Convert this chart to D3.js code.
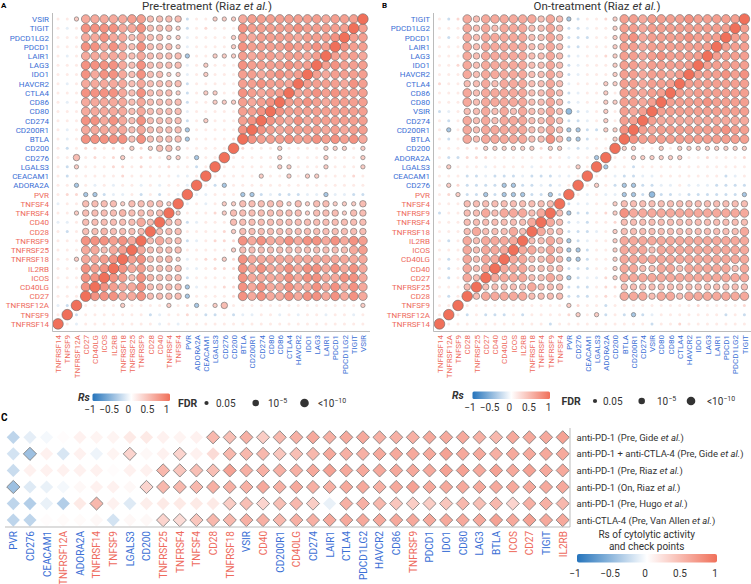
<!DOCTYPE html>
<html><head><meta charset="utf-8">
<script src="https://cdn.jsdelivr.net/npm/d3@7/dist/d3.min.js"></script>
<style>body{margin:0;background:#fff}svg{display:block;font-family:Roboto,"Noto Sans",sans-serif}</style>
</head><body>
<svg id="chart" width="751" height="584"></svg>
<script>
// ---------------- DATA ----------------
const genesA = ["TNFRSF14","TNFSF9","TNFRSF12A","CD27","CD40LG","ICOS","IL2RB","TNFRSF18","TNFRSF25","TNFRSF9","CD28","CD40","TNFRSF4","TNFSF4","PVR","ADORA2A","CEACAM1","LGALS3","CD276","CD200","BTLA","CD200R1","CD274","CD80","CD86","CTLA4","HAVCR2","IDO1","LAG3","LAIR1","PDCD1","PDCD1LG2","TIGIT","VSIR"];
const genesB = ["TNFRSF14","TNFRSF12A","TNFSF9","CD28","TNFRSF25","CD27","CD40","CD40LG","ICOS","IL2RB","TNFRSF18","TNFRSF4","TNFRSF9","TNFSF4","PVR","CD276","CEACAM1","LGALS3","ADORA2A","CD200","BTLA","CD200R1","CD274","VSIR","CD80","CD86","CTLA4","HAVCR2","IDO1","LAG3","LAIR1","PDCD1","PDCD1LG2","TIGIT"];
const genesC = ["PVR","CD276","CEACAM1","TNFRSF12A","ADORA2A","TNFRSF14","TNFSF9","LGALS3","CD200","TNFRSF25","TNFRSF4","TNFSF4","CD28","TNFRSF18","VSIR","CD40","CD200R1","CD40LG","CD274","LAIR1","CTLA4","PDCD1LG2","HAVCR2","CD86","TNFRSF9","PDCD1","IDO1","CD80","LAG3","BTLA","ICOS","CD27","TIGIT","IL2RB"];
const stimulatory = ["TNFRSF14","TNFSF9","TNFRSF12A","CD27","CD40LG","ICOS","IL2RB","TNFRSF18","TNFRSF25","TNFRSF9","CD28","CD40","TNFRSF4","TNFSF4"];
const rowOnlyStimulatory = ["PVR"];

// cell codes -> Spearman Rs and FDR
const codeRs  = {".":0.15, ":":0.28, ",":-0.12, ";":-0.25, "o":0.36, "m":0.46, "n":0.52, "L":0.6, "M":0.67, "H":0.76, "q":-0.4, "Q":-0.5, "X":1};
const codeFdr = {".":0.4, ":":0.2, ",":0.4, ";":0.2, "o":0.03, "m":1e-5, "n":1e-6, "L":1e-10, "M":1e-11, "H":1e-12, "q":0.03, "Q":1e-4, "X":1e-20};

// lower triangle (row gene i, columns 0..i) in gene order
const triA = [
"X",
".X",
",;X",
"...X",
"...HX",
"...HHX",
"...HMHX",
"..oLLMHX",
"...LLmLMX",
"...HHHMHLX",
".;.mmnmmmmX",
",,.mmmmmmLmX",
"..ommmmnmmmmX",
",..mmmmommmmoX",
".::qq;,,.;.;.,X",
"..q.,.,..,.,..,X",
".;.....:.....,,.X",
".;o...::.:..:..;.X",
"..m.:.:o.::.oo.q..X",
".;.::.::o:ommo.....X",
".,.HHHHHmHmmmmq....:X",
".,.LLLLLmLmmmmq.....HX",
"...HHLHLmHmmmm;.o...MHX",
"...LLLLLmLmmmm,.....MMHX",
".,.LLLLLmLmmmm;..oooMLMHX",
"...HHHHLmHmmmo;.oo..HMLMMX",
".,.LLLLLmLmmmm;.....MMHMMLX",
"...HLHHLmHmmoo,.o...MMLMHMMX",
"...HHHHLmHmmmm,.o...HMMMMHMMX",
".,.LLLLLmLmmmmq..oooMLMMLMMLMX",
"...HHLHLmHmmmo,....oHMMMMHMMHMX",
"...LLHLLmLmmoo,....oMLMMMMLMMMHX",
".,.HHHHLLHmmmo;.:...HMMMMMHMMMMMX",
"..oLLLLLMMmmmm;..oooLMMMMMMMMLMMMX"];

const triB = [
"X",
".X",
"..X",
".;.X",
"...mX",
".;.LmX",
".;.LmLX",
".;.LmLLX",
"...LmLLLX",
".;.LmLLLLX",
"...mLmmmLmX",
"...mmmmmmmLX",
";..mmLmLLLmLX",
"...mmmmmmmmmmX",
".:o;;q;qqq;;q;X",
".o:;;;;qq;;,;,.X",
"...;;,;;;,;;;,,.X",
".o...,....,....o.X",
".;;:::......:.,..qX",
"....:oooooo:oo,;,..X",
".;.LmLLLLLmmHmqq;..oX",
".q.LmLLLLLmmLmqq;;ooHX",
".;.LmLmLLLmmLm;;,.o.MMX",
";,.mmLmLmLmmLmQ;,.o.MLMX",
"...LmLLLLLmmLm;,..ooMMLMX",
"...LmLLLLLmmLm;,..o.MMLMMX",
":..mmLmLLLmmLm,...ooMMLMMMX",
"...LmLLLLLmmLm;,...oMMLMMLMX",
"..:LmLLLLLmmLm;,...oMMLMMMMMX",
"...LmLLLLLmmLm;,..:oMMLMHMMMMX",
"...LmLLLLLmmLm;;...oMMLMMMMMMMX",
".;.LmLLLLLmmLm;;;..oMHLMMMMHMMMX",
"...LmLmLLLmmLm;;,..oMMLMMMMMMMMMX",
".;:LmLLLLLLmLmq;..:oMMLMMMMHMMMMMX"];

const studiesC = ["anti-PD-1 (Pre, Gide et al.)","anti-PD-1 + anti-CTLA-4 (Pre, Gide et al.)","anti-PD-1 (Pre, Riaz et al.)","anti-PD-1 (On, Riaz et al.)","anti-PD-1 (Pre, Hugo et al.)","anti-CTLA-4 (Pre, Van Allen et al.)"];
const rsC = [
[-0.3,-0.12,-0.05,0.02,0.1,0.08,0.08,0.15,0.15,0.1,0.08,0.1,0.5,0.45,0.55,0.35,0.5,0.55,0.6,0.55,0.6,0.6,0.55,0.55,0.55,0.6,0.6,0.6,0.55,0.5,0.6,0.6,0.6,0.65],
[-0.2,-0.45,0.1,-0.18,0.1,-0.08,0.08,0.3,0.05,0.1,0.3,0.1,0.25,0.5,0.5,0.5,0.4,0.45,0.5,0.6,0.55,0.55,0.6,0.6,0.6,0.6,0.65,0.6,0.6,0.55,0.6,0.6,0.6,0.6],
[-0.25,0.1,0.1,0.1,0.1,0.1,0.02,0.1,0.1,0.5,0.4,0.45,0.45,0.65,0.55,0.55,0.55,0.55,0.6,0.65,0.6,0.6,0.6,0.6,0.6,0.6,0.65,0.65,0.6,0.65,0.6,0.65,0.6,0.6],
[-0.45,-0.15,-0.1,-0.05,0.05,0.1,0.1,0.05,0.3,0.5,0.5,0.5,0.55,0.55,0.55,0.6,0.55,0.6,0.55,0.55,0.6,0.6,0.55,0.6,0.65,0.6,0.6,0.6,0.6,0.6,0.6,0.6,0.6,0.6],
[-0.3,-0.35,-0.1,-0.35,0.15,0.5,0.1,-0.15,0.12,0.15,0.15,0.15,0.15,0.35,0.45,0.3,0.45,0.5,0.35,-0.1,0.55,0.55,0.5,0.4,0.35,0.35,0.4,0.5,0.45,0.5,0.3,0.55,0.55,0.5],
[-0.3,-0.3,0.02,0.03,0.03,0.05,-0.2,0.05,0.05,0.3,0.25,0.4,0.5,0.5,0.55,0.55,0.5,0.55,0.55,0.6,0.6,0.6,0.6,0.6,0.6,0.6,0.6,0.6,0.6,0.65,0.6,0.65,0.6,0.6]];
const sigC = [
"0000000000001111111111111111111111",
"0100000100100111111111111111111111",
"0000000001111111111111111111111111",
"1000000011111111111111111111111111",
"0000010000000111111011111111111111",
"0000000001111111111111111111111111"];
const rsTicks = [-1,-0.5,0,0.5,1];
const fdrLegend = [0.05,1e-5,1e-10];

// ---------------- SCALES ----------------
const svg = d3.select("#chart");
const RED = "#ee6a5c", BLUE = "#3b6fd5", TXT = "#333";
const color = d3.scaleLinear().domain([-1,0,1]).range(["#2574bc","#ffffff","#f0705a"]);
const size = d3.scaleLinear().domain([1.3,5,10,20]).range([2.1,3.25,4.3,5.3]).clamp(true);
const radius = f => f > 0.05 ? 1.5 : size(-Math.log10(f));
const fmt = v => (v < 0 ? "\u2212" : "") + Math.abs(v);

const defs = svg.append("defs");
const grad = defs.append("linearGradient").attr("id","rsgrad");
d3.range(0,1.0001,0.1).forEach(t => grad.append("stop").attr("offset", t).attr("stop-color", color(-1 + 2*t)));

function labelColor(g, isRow){
  if (stimulatory.includes(g) || (isRow && rowOnlyStimulatory.includes(g))) return RED;
  return BLUE;
}

function drawMatrix(genes, tri, x0, x1, axisX, axisRight){
  const x = d3.scalePoint().domain(genes).range([x0, x1]);
  const y = d3.scalePoint().domain(genes.slice().reverse()).range([19, 323.9]);
  const cells = [];
  genes.forEach((gr,i) => genes.forEach((gc,j) => {
    const code = tri[Math.max(i,j)][Math.min(i,j)];
    cells.push({r:gr, c:gc, rs:codeRs[code], fdr:codeFdr[code]});
  }));
  cells.sort((a,b) => b.fdr - a.fdr);
  const g = svg.append("g");
  g.selectAll("circle").data(cells).join("circle")
    .attr("cx", d => x(d.c)).attr("cy", d => y(d.r))
    .attr("r", d => radius(d.fdr))
    .attr("fill", d => color(d.rs))
    .attr("stroke", d => d.fdr <= 0.05 ? "#6a6a6a" : "none")
    .attr("stroke-width", 0.6);
  svg.append("line").attr("x1",axisX).attr("x2",axisX).attr("y1",13).attr("y2",331.5).attr("stroke","#bbb");
  svg.append("line").attr("x1",axisX).attr("x2",axisRight).attr("y1",331.5).attr("y2",331.5).attr("stroke","#bbb");
  const ay = svg.append("g").attr("transform",`translate(${axisX},0)`)
    .call(d3.axisLeft(y).tickSize(0).tickPadding(3.5));
  ay.select(".domain").remove();
  ay.selectAll("text").attr("fill", d => labelColor(d,true)).style("font-size","8px").style("font-family","Roboto");
  const ax = svg.append("g").attr("transform","translate(0,331.5)")
    .call(d3.axisBottom(x).tickSize(0));
  ax.select(".domain").remove();
  ax.selectAll("text").attr("transform","rotate(-90)").attr("x",-3.5).attr("y",0).attr("dy","0.34em")
    .style("text-anchor","end").attr("fill", d => labelColor(d,false)).style("font-size","8px").style("font-family","Roboto");
}

drawMatrix(genesA, triA, 58, 362.9, 52.5, 370);
drawMatrix(genesB, triB, 439.5, 744.4, 433.5, 751);

function title(xc, pre){
  const t = svg.append("text").attr("x", xc).attr("y", 10).attr("text-anchor","middle")
    .style("font-size","11.5px").attr("fill",TXT);
  t.append("tspan").text(pre + " (Riaz ");
  t.append("tspan").style("font-style","italic").text("et al.");
  t.append("tspan").text(")");
}
title(207, "Pre-treatment");
title(597, "On-treatment");
svg.append("text").attr("x",1).attr("y",7.5).text("A").style("font-weight","bold").style("font-size","8px");
svg.append("text").attr("x",382).attr("y",7.5).text("B").style("font-weight","bold").style("font-size","8px");
svg.append("text").attr("x",1).attr("y",421).text("C").style("font-weight","bold").style("font-size","10px");

function legendAB(o){
  svg.append("text").attr("x",o.rsX).attr("y",o.y+3.5).text("Rs").style("font-style","italic").style("font-weight","bold").style("font-size","10.5px").attr("fill",TXT);
  svg.append("rect").attr("x",o.barX).attr("y",o.y-3.5).attr("width",77.5).attr("height",7.5).attr("rx",1.5).attr("fill","url(#rsgrad)");
  const tx = d3.scaleLinear().domain([-1,1]).range([o.tick0, o.tick1]);
  svg.append("g").selectAll("text").data(rsTicks).join("text")
    .attr("x", d => tx(d)).attr("y", o.y+15.5).attr("text-anchor","middle").text(fmt)
    .style("font-size","10px").attr("fill",TXT);
  svg.append("text").attr("x",o.fdrX).attr("y",o.y+9.5).text("FDR").style("font-weight","bold").style("font-size","10.5px").attr("fill",TXT);
  svg.append("g").selectAll("circle").data(fdrLegend).join("circle")
    .attr("cx",(d,i)=>o.dots[i]).attr("cy",o.y+6).attr("r",d=>radius(d)).attr("fill","#333");
  const labs = [["0.05",null],["10","\u22125"],["<10","\u221210"]];
  labs.forEach((l,i) => {
    const t = svg.append("text").attr("x",o.labs[i]).attr("y",o.y+9.5).style("font-size","10px").attr("fill",TXT);
    t.append("tspan").text(l[0]);
    if (l[1]) t.append("tspan").attr("dy",-4).style("font-size","7px").text(l[1]);
  });
}
legendAB({y:397, rsX:78, barX:92.5, tick0:90, tick1:166.5, fdrX:178, dots:[206.5,255.7,304.5], labs:[216,268,318]});
legendAB({y:395, rsX:452, barX:472.5, tick0:470, tick1:548.5, fdrX:561.5, dots:[595,641.7,691], labs:[603,657,707]});

// ---------------- PANEL C ----------------
const xc = d3.scalePoint().domain(genesC).range([13.3, 562.7]);
const yc = d3.scalePoint().domain(studiesC).range([437.3, 520.1]);
const cData = [];
studiesC.forEach((s,i) => genesC.forEach((g,j) => cData.push({s, g, rs: rsC[i][j], sig: sigC[i][j] === "1"})));
const h = 6.6;
svg.append("g").selectAll("path").data(cData).join("path")
  .attr("d", `M0,${-h}L${h},0L0,${h}L${-h},0Z`)
  .attr("transform", d => `translate(${xc(d.g)},${yc(d.s)})`)
  .attr("fill", d => color(d.rs))
  .attr("stroke", d => d.sig ? "#777" : "none").attr("stroke-width",0.8);
svg.append("line").attr("x1",5).attr("x2",570).attr("y1",527).attr("y2",527).attr("stroke","#bbb");
svg.append("line").attr("x1",570).attr("x2",570).attr("y1",428).attr("y2",527).attr("stroke","#bbb");
const axc = svg.append("g").attr("transform","translate(0,527)").call(d3.axisBottom(xc).tickSize(0));
axc.select(".domain").remove();
axc.selectAll("text").attr("transform","rotate(-90)").attr("x",-4).attr("y",0).attr("dy","0.34em")
  .style("text-anchor","end").attr("fill", d => labelColor(d,false)).style("font-size","10px").style("font-family","Roboto");
const ayc = svg.append("g").attr("transform","translate(570,0)").call(d3.axisRight(yc).tickSize(0).tickPadding(6.5));
ayc.select(".domain").remove();
ayc.selectAll("text").each(function(d){
  const t = d3.select(this).text(null).attr("fill",TXT).style("font-size","9.5px").style("font-family","Roboto");
  const parts = d.split("et al.");
  t.append("tspan").text(parts[0]);
  t.append("tspan").style("font-style","italic").text("et al.");
  t.append("tspan").text(parts[1]);
});
svg.append("text").attr("x",646.7).attr("y",538).attr("text-anchor","middle").text("Rs of cytolytic activity").style("font-size","10px").attr("fill",TXT);
svg.append("text").attr("x",646.7).attr("y",549.5).attr("text-anchor","middle").text("and check points").style("font-size","10px").attr("fill",TXT);
svg.append("rect").attr("x",577).attr("y",554).attr("width",140).attr("height",8.5).attr("rx",2).attr("fill","url(#rsgrad)");
const txc = d3.scaleLinear().domain([-1,1]).range([575,715]);
svg.append("g").selectAll("text").data(rsTicks).join("text")
  .attr("x", d => txc(d)).attr("y", 577).attr("text-anchor","middle").text(fmt)
  .style("font-size","10px").attr("fill",TXT);
</script>
</body></html>
